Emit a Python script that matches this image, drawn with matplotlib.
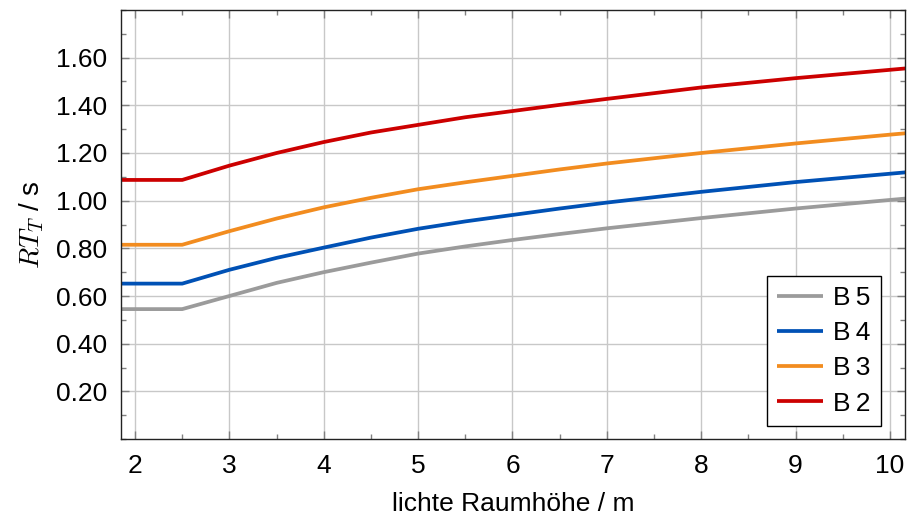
import matplotlib
matplotlib.use("Agg")
from matplotlib import pyplot as plt
from matplotlib.ticker import MultipleLocator

plt.rcParams['font.family'] = ['Liberation Sans', 'DejaVu Sans']
plt.rcParams['mathtext.fontset'] = 'cm'

# Raumhöhe / m
hoehe = [1.8, 2.5, 3, 3.5, 4, 4.5, 5, 5.5, 6, 6.5, 7, 8, 9, 10, 10.2]

# RT_T / s
b5 = [0.545, 0.545, 0.60, 0.655, 0.70, 0.74, 0.778, 0.808, 0.835, 0.86, 0.884, 0.927, 0.967, 1.003, 1.01]
b4 = [0.652, 0.652, 0.71, 0.76, 0.803, 0.845, 0.882, 0.913, 0.940, 0.967, 0.992, 1.037, 1.078, 1.113, 1.12]
b3 = [0.815, 0.815, 0.872, 0.925, 0.972, 1.012, 1.048, 1.077, 1.104, 1.131, 1.156, 1.200, 1.240, 1.277, 1.284]
b2 = [1.087, 1.087, 1.147, 1.200, 1.246, 1.286, 1.318, 1.350, 1.376, 1.402, 1.427, 1.475, 1.514, 1.549, 1.556]

namen = ['B\u20095', 'B\u20094', 'B\u20093', 'B\u20092']
farben = ['#9b9b9b', '#0051b5', '#f28c1f', '#cc0000']

fig = plt.figure(figsize=(9.09, 5.18), dpi=100)
ax = fig.add_axes([0.133, 0.1525, 0.8626, 0.8282])

for werte, name, farbe in zip([b5, b4, b3, b2], namen, farben):
    ax.plot(hoehe, werte, color=farbe, lw=2.7, label=name, solid_capstyle='butt')

ax.set_xlim(1.85, 10.16)
ax.set_ylim(0, 1.8)

ax.xaxis.set_major_locator(MultipleLocator(1))
ax.xaxis.set_minor_locator(MultipleLocator(0.5))
ax.yaxis.set_minor_locator(MultipleLocator(0.1))

yt = [0.2, 0.4, 0.6, 0.8, 1.0, 1.2, 1.4, 1.6]
ax.set_yticks(yt)
ax.set_yticklabels(['%.2f' % v for v in yt])

ax.grid(True, which='major', color='#c8c8c8', lw=1.0)
ax.set_axisbelow(True)

ax.tick_params(which='both', direction='in', top=True, right=True, colors='#808080',
               labelcolor='black', labelsize=19)
ax.tick_params(which='major', length=6, width=1)
ax.tick_params(which='minor', length=3.5, width=1)
ax.tick_params(axis='y', pad=10)
ax.tick_params(axis='x', pad=11)
for s in ax.spines.values():
    s.set_color('#222222')
    s.set_linewidth(1.0)

ax.set_xlabel('lichte Raumhöhe / m', fontsize=19, labelpad=10)
ax.set_ylabel('$RT_T$ / s', fontsize=20, labelpad=7)

leg = ax.legend(loc='lower right', fontsize=19, frameon=True, fancybox=False,
                edgecolor='black', framealpha=1, handlelength=1.75, handletextpad=0.35,
                labelspacing=0.42, borderpad=0.4, borderaxespad=0,
                bbox_to_anchor=(0.969, 0.03))
leg.get_frame().set_linewidth(1.0)

plt.savefig('out.png', dpi=100)
